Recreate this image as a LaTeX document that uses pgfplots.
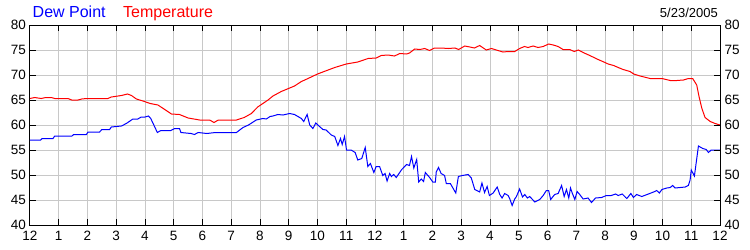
\documentclass[border=0pt]{standalone}
\usepackage{pgfplots}
\pgfplotsset{compat=1.18}
\usepackage{fontspec}
\setmainfont{Liberation Sans}
\definecolor{gridgray}{RGB}{200,200,200}
\definecolor{tblue}{RGB}{0,0,255}
\definecolor{tred}{RGB}{255,0,0}
\begin{document}
\begin{tikzpicture}
\useasboundingbox (-30bp,-25bp) rectangle (720bp,225bp);
\begin{axis}[
  at={(0,0)}, anchor=south west,
  scale only axis, width=690bp, height=200bp,
  xmin=0, xmax=24, ymin=40, ymax=80,
  xtick={0,...,24},
  xticklabels={12,1,2,3,4,5,6,7,8,9,10,11,12,1,2,3,4,5,6,7,8,9,10,11,12},
  ytick={40,45,...,80},
  grid=major,
  major grid style={gridgray, line width=1bp},
  axis line style={black, line width=1bp},
  major tick style={black, line width=1bp},
  major tick length=6bp,
  tick align=inside,
  tick pos=both,
  yticklabel pos=left,
  /pgf/number format/assume math mode=true,
  ticklabel style={font=\fontsize{13.5bp}{16bp}\selectfont},
  xticklabel style={yshift=-2.5bp},
  yticklabel style={xshift=-0.5bp},
]
\addplot[tred, line width=1bp] coordinates {
(0,65.3) (0.16,65.5) (0.39,65.3) (0.55,65.5) (0.74,65.5) (0.86,65.3) (1.32,65.3) (1.45,65.0) (1.67,65.0) (1.8,65.2) (1.96,65.3) (2.71,65.3) (2.83,65.6) (3.18,65.9) (3.39,66.2) (3.53,65.9) (3.7,65.2) (3.93,64.8) (4.18,64.3) (4.45,64.0) (4.74,62.9) (4.92,62.2) (5.2,62.1) (5.5,61.4) (5.9,61.0) (6.25,61.0) (6.4,60.5) (6.55,61.0) (7.18,61.0) (7.45,61.5) (7.7,62.3) (7.92,63.6) (8.1,64.3) (8.28,65.0) (8.45,65.8) (8.74,66.7) (9.2,67.8) (9.44,68.7) (9.67,69.3) (10.0,70.2) (10.37,71.0) (10.6,71.5) (11.0,72.2) (11.4,72.6) (11.76,73.3) (12.04,73.4) (12.22,73.9) (12.45,74.0) (12.68,73.8) (12.86,74.3) (13.1,74.2) (13.2,74.4) (13.38,75.2) (13.56,75.1) (13.73,75.3) (13.9,74.9) (14.07,75.4) (14.3,75.4) (14.55,75.3) (14.78,75.4) (14.91,75.1) (15.12,75.8) (15.3,75.6) (15.46,75.4) (15.64,75.9) (15.87,75.0) (16.05,75.3) (16.22,75.0) (16.45,74.6) (16.63,74.7) (16.86,74.7) (17.03,75.3) (17.2,75.7) (17.32,75.5) (17.5,75.8) (17.67,75.5) (17.85,75.7) (18.04,76.2) (18.2,76.0) (18.37,75.7) (18.54,75.1) (18.77,75.1) (18.93,74.7) (19.07,75.0) (19.24,74.5) (19.47,73.9) (19.76,73.1) (20.0,72.5) (20.11,72.2) (20.3,71.9) (20.46,71.5) (20.63,71.1) (20.87,70.7) (21.0,70.2) (21.22,69.8) (21.57,69.3) (21.98,69.3) (22.27,68.9) (22.5,68.9) (22.73,69.0) (22.9,69.3) (23.05,69.3) (23.19,68.0) (23.27,65.7) (23.37,63.3) (23.48,61.5) (23.66,60.7) (23.83,60.3) (24.0,60.0)
};
\addplot[tblue, line width=1bp] coordinates {
(0,57.0) (0.37,57.0) (0.42,57.3) (0.8,57.3) (0.86,57.8) (1.46,57.8) (1.52,58.1) (1.96,58.1) (2.02,58.6) (2.42,58.6) (2.5,59.1) (2.77,59.1) (2.83,59.6) (3.18,59.8) (3.35,60.3) (3.58,61.2) (3.75,61.2) (3.87,61.6) (4.0,61.6) (4.12,61.8) (4.2,61.3) (4.43,58.5) (4.55,58.9) (4.9,58.9) (5.03,59.3) (5.2,59.3) (5.25,58.5) (5.6,58.3) (5.72,58.1) (5.85,58.5) (6.15,58.3) (6.45,58.5) (7.18,58.5) (7.41,59.5) (7.6,60.0) (7.87,61.0) (8.1,61.3) (8.22,61.2) (8.35,61.7) (8.45,61.8) (8.62,62.1) (8.8,62.0) (9.03,62.3) (9.2,62.1) (9.44,61.3) (9.52,60.7) (9.64,62.1) (9.73,60.0) (9.84,59.3) (9.94,60.4) (10.07,59.7) (10.19,59.1) (10.3,59.0) (10.48,58.0) (10.6,57.7) (10.71,55.9) (10.8,57.3) (10.86,56.1) (10.94,57.7) (11.01,55.0) (11.17,55.0) (11.31,54.5) (11.4,53.0) (11.54,53.3) (11.66,55.5) (11.75,51.7) (11.84,52.3) (11.96,50.5) (12.04,51.7) (12.16,51.7) (12.27,49.9) (12.35,50.3) (12.42,48.8) (12.51,50.3) (12.57,49.7) (12.65,50.1) (12.74,49.5) (12.93,51.1) (13.1,52.1) (13.2,51.9) (13.27,53.7) (13.35,51.4) (13.45,53.1) (13.52,48.6) (13.61,49.2) (13.69,48.7) (13.75,50.5) (13.9,49.5) (14.01,48.6) (14.1,48.6) (14.13,50.6) (14.21,51.5) (14.3,50.3) (14.42,49.9) (14.48,48.3) (14.62,48.3) (14.71,47.4) (14.81,46.4) (14.9,49.7) (15.04,49.9) (15.24,50.1) (15.35,49.4) (15.47,47.1) (15.64,46.6) (15.72,48.4) (15.81,46.5) (15.9,47.7) (15.98,45.9) (16.11,46.4) (16.25,47.6) (16.34,46.1) (16.42,45.4) (16.51,46.3) (16.63,45.9) (16.69,45.2) (16.77,43.9) (16.86,45.2) (16.92,45.7) (17.03,47.2) (17.13,45.6) (17.21,46.1) (17.3,45.4) (17.38,45.7) (17.56,44.6) (17.73,45.1) (17.85,45.9) (17.96,46.9) (18.04,46.9) (18.11,45.1) (18.25,46.1) (18.37,46.3) (18.49,47.9) (18.58,45.7) (18.66,47.1) (18.74,45.4) (18.8,47.4) (18.86,46.4) (18.95,45.1) (19.03,46.7) (19.12,46.1) (19.24,45.2) (19.41,45.4) (19.53,44.5) (19.67,45.4) (19.88,45.5) (20.05,45.9) (20.22,45.9) (20.37,46.2) (20.46,45.9) (20.6,46.2) (20.72,45.5) (20.76,45.3) (20.9,46.3) (20.99,45.5) (21.1,46.1) (21.28,45.7) (21.51,46.2) (21.69,46.6) (21.8,46.9) (21.89,46.4) (21.98,47.1) (22.15,47.4) (22.27,47.5) (22.35,47.9) (22.44,47.4) (22.62,47.5) (22.79,47.6) (22.9,47.9) (22.96,49.0) (23.0,51.0) (23.11,49.8) (23.25,55.8) (23.4,55.3) (23.52,55.1) (23.6,54.5) (23.69,55.0) (23.83,55.0) (24.0,55.0)
};
\end{axis}
\begin{axis}[
  at={(0,0)}, anchor=south west,
  scale only axis, width=690bp, height=200bp,
  xmin=0, xmax=24, ymin=40, ymax=80,
  hide x axis,
  axis y line*=right,
  ytick={40,45,...,80},
  axis line style={black, line width=1bp},
  major tick style={black, line width=1bp},
  major tick length=6bp,
  tick align=inside,
  /pgf/number format/assume math mode=true,
  ticklabel style={font=\fontsize{13.5bp}{16bp}\selectfont},
  yticklabel style={xshift=1bp},
]
\end{axis}
\node[anchor=base west, inner sep=0pt, text=tblue, font=\fontsize{16bp}{18bp}\selectfont] at (2.5bp,207.5bp) {Dew Point};
\node[anchor=base west, inner sep=0pt, text=tred, font=\fontsize{16bp}{18bp}\selectfont] at (93bp,207.5bp) {Temperature};
\node[anchor=base east, inner sep=0pt, text=black, font=\fontsize{13bp}{16bp}\selectfont] at (688bp,207.5bp) {5/23/2005};
\end{tikzpicture}
\end{document}
